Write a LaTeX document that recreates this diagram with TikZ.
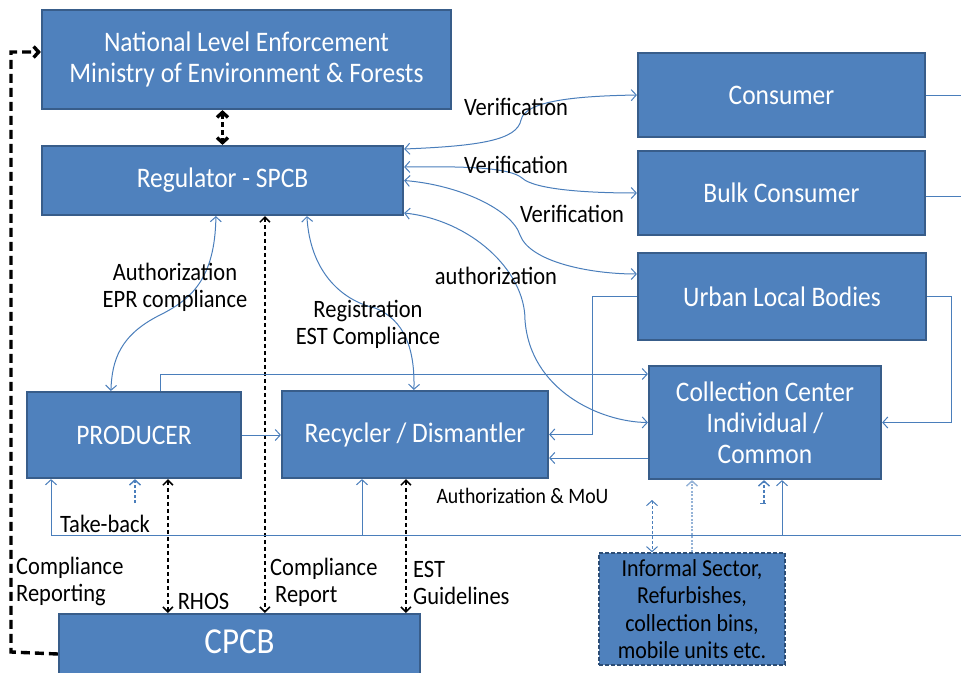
\documentclass[tikz,border=0pt]{standalone}
\usepackage{fontspec}
\setmainfont[FakeStretch=0.9]{Carlito}
\usetikzlibrary{arrows.meta,calc}
\definecolor{boxfill}{HTML}{4F81BD}
\definecolor{boxline}{HTML}{385D8A}
\definecolor{conncol}{HTML}{4A7EBB}
\definecolor{palecol}{HTML}{95B3D7}
\definecolor{infline}{HTML}{2C4D75}
\begin{document}
\begin{tikzpicture}[x=1pt,y=-1pt,
  >={Straight Barb[length=5pt,width=11pt]},
  box/.style={draw=boxline, line width=2.2pt, fill=boxfill, text=white, inner sep=0pt, align=center, font=\fontsize{28.3}{31}\selectfont},
  lbl/.style={inner sep=0pt, align=center, font=\fontsize{25}{27}\selectfont},
  cl/.style={draw=conncol, line width=1pt},
  kd/.style={draw=black, line width=1.5pt, dash pattern=on 4.5pt off 2.5pt, >={Straight Barb[length=5pt,width=10pt]}},
  thk/.style={draw=black, line width=3.4pt, dash pattern=on 9pt off 5pt, >={Straight Barb[length=5pt,width=11pt]}},
  bd/.style={draw=conncol, line width=1.4pt, dash pattern=on 3pt off 2pt},
  pd/.style={draw=palecol, line width=1.4pt, dash pattern=on 2pt off 1.5pt}
]
\useasboundingbox (0,0) rectangle (961,672);
\clip (0,0) rectangle (961,672);

% boxes
\node[box, minimum width=409pt, minimum height=99pt] (nat) at (246.5,59.5) {National Level Enforcement\\Ministry of Environment \& Forests};
\node[box, minimum width=361pt, minimum height=69pt] (reg) at (222.5,180.5) {Regulator - SPCB};
\node[box, minimum width=287pt, minimum height=84pt] (cons) at (781.5,95) {Consumer};
\node[box, minimum width=287pt, minimum height=84pt] (bulk) at (781.5,193) {Bulk Consumer};
\node[box, minimum width=288pt, minimum height=87pt] (ulb) at (782,296.5) {Urban Local Bodies};
\node[box, minimum width=232pt, minimum height=113pt] (cc) at (765,422.5) {Collection Center\\Individual /\\Common};
\node[box, minimum width=214pt, minimum height=86pt] (prod) at (134,435) {PRODUCER};
\node[box, minimum width=266pt, minimum height=87pt] (rec) at (415,434.5) {Recycler / Dismantler};
\node[box, minimum width=361pt, minimum height=80pt] (cpcb) at (239.5,654) {};
\node[text=white, inner sep=0pt, font=\fontsize{36.6}{40}\selectfont] (cpcbt) at (239.5,642) {CPCB};
\node[box, draw=infline, line width=1.5pt, dash pattern=on 4pt off 2pt, text=black, font=\fontsize{24.4}{27.5}\selectfont, minimum width=186pt, minimum height=112pt] (inf) at (692,609) {Informal Sector,\\Refurbishes,\\collection bins,\\mobile units etc.};

% thick dashed links
\draw[thk,<->, dash pattern=on 5pt off 3pt] (reg.north |- nat.south) -- (reg.north);
\draw[thk,->] (cpcb.west) -- (11,652) -- (11,52) -- (nat.west |- 0,52);

% black dashed vertical links
\draw[kd,<->] ([xshift=142pt]prod.south west) -- ([xshift=110pt]cpcb.north west);
\draw[kd,<->] ([xshift=224pt]reg.south west) -- ([xshift=207pt]cpcb.north west);
\draw[kd,<->] ([xshift=125pt]rec.south west) -- ([xshift=348pt]cpcb.north west);

% straight blue links
\draw[cl,->] (prod.east) -- (rec.west |- prod.east);
\draw[cl,->] ([xshift=135pt]prod.north west) |- ([yshift=48.5pt]cc.west);
\draw[cl,->] (ulb.west) -- ++(-44,0) |- (rec.east);
\draw[cl,->] (ulb.east) -- ++(24,0) |- (cc.east);
\draw[cl,->] ([yshift=-35.5pt]cc.west) -- ([yshift=-23.5pt]rec.east);

% take-back bus
\coordinate (busL) at (51,535);
\coordinate (busR) at (961,535);
\coordinate (bus2) at (362,535);
\coordinate (bus3) at (782,535);
\draw[cl] (busL) -- (busR);
\draw[cl,->] (busL) -- (busL |- prod.south);
\draw[cl,->] (bus2) -- (bus2 |- rec.south);
\draw[cl,->] (bus3) -- (bus3 |- cc.south);
\coordinate (consR) at (961,95);
\coordinate (bulkR) at (961,196);
\draw[cl] ([yshift=0pt]cons.east) -- (consR);
\draw[cl] ([yshift=-3pt]bulk.east) -- (bulkR);

% small dashed arrows
\coordinate (tb) at (135,503);
\draw[bd,->] (tb) -- (tb |- prod.south);
\coordinate (tc) at (764,503);
\draw[bd,->] (tc) -- (tc |- cc.south);
\draw[conncol, line width=1pt] ([xshift=-4pt]tc) -- ([xshift=2pt]tc);
\coordinate (ia) at (652,500);
\draw[bd, line width=1pt, <->] (ia) -- (ia |- inf.north);
\draw[pd,->] (inf.north) -- (inf.north |- cc.south);

% curved links
\draw[cl,<->] ([yshift=31.5pt]reg.east) .. controls (480,146) and (517,140) .. (521,120) .. controls (525,100) and (580,96) .. (cons.west);
\draw[cl,<->] ([yshift=13.5pt]reg.east) .. controls (470,166) and (510,168) .. (522,178) .. controls (535,190) and (590,193) .. (bulk.west);
\draw[cl,<->] (reg.east) .. controls (460,185) and (512,210) .. (520,235) .. controls (530,262) and (590,274) .. ([yshift=22.5pt]ulb.west);
\draw[cl,<->] ([yshift=-32.5pt]reg.east) .. controls (470,220) and (525,270) .. (525,320) .. controls (530,390) and (600,422) .. (cc.west);
\draw[cl,<->] ([xshift=266pt]reg.south west) .. controls (310,270) and (340,300) .. (375,308) .. controls (405,320) and (415,350) .. ([xshift=133pt]rec.north west);
\draw[cl,<->] ([xshift=175pt]reg.south west) .. controls (215,280) and (190,300) .. (160,315) .. controls (120,335) and (112,360) .. ([xshift=85pt]prod.north west);

% labels
\node[lbl] (v1) at (516,107) {Verification};
\node[lbl] (v2) at (516,165) {Verification};
\node[lbl] (v3) at (572,214) {Verification};
\node[lbl] (au) at (496,276) {authorization};
\node[lbl] (epr) at (175,287.5) {Authorization\\EPR compliance};
\node[lbl] (regl) at (368,324) {Registration\\EST Compliance};
\node[lbl] (tbl) at (105,524) {Take-back};
\node[lbl, align=left, anchor=west] (crl) at (16,581) {Compliance\\Reporting};
\node[lbl] (rhos) at (203.5,601) {RHOS};
\node[lbl, align=left, anchor=west] (crp) at (270,582) {Compliance\\\hspace{5pt}Report};
\node[lbl, align=left, anchor=west] (estl) at (413,583) {EST\\Guidelines};
\node[lbl, font=\fontsize{22}{24}\selectfont] (mou) at (522.5,496) {Authorization \& MoU};
\end{tikzpicture}
\end{document}
